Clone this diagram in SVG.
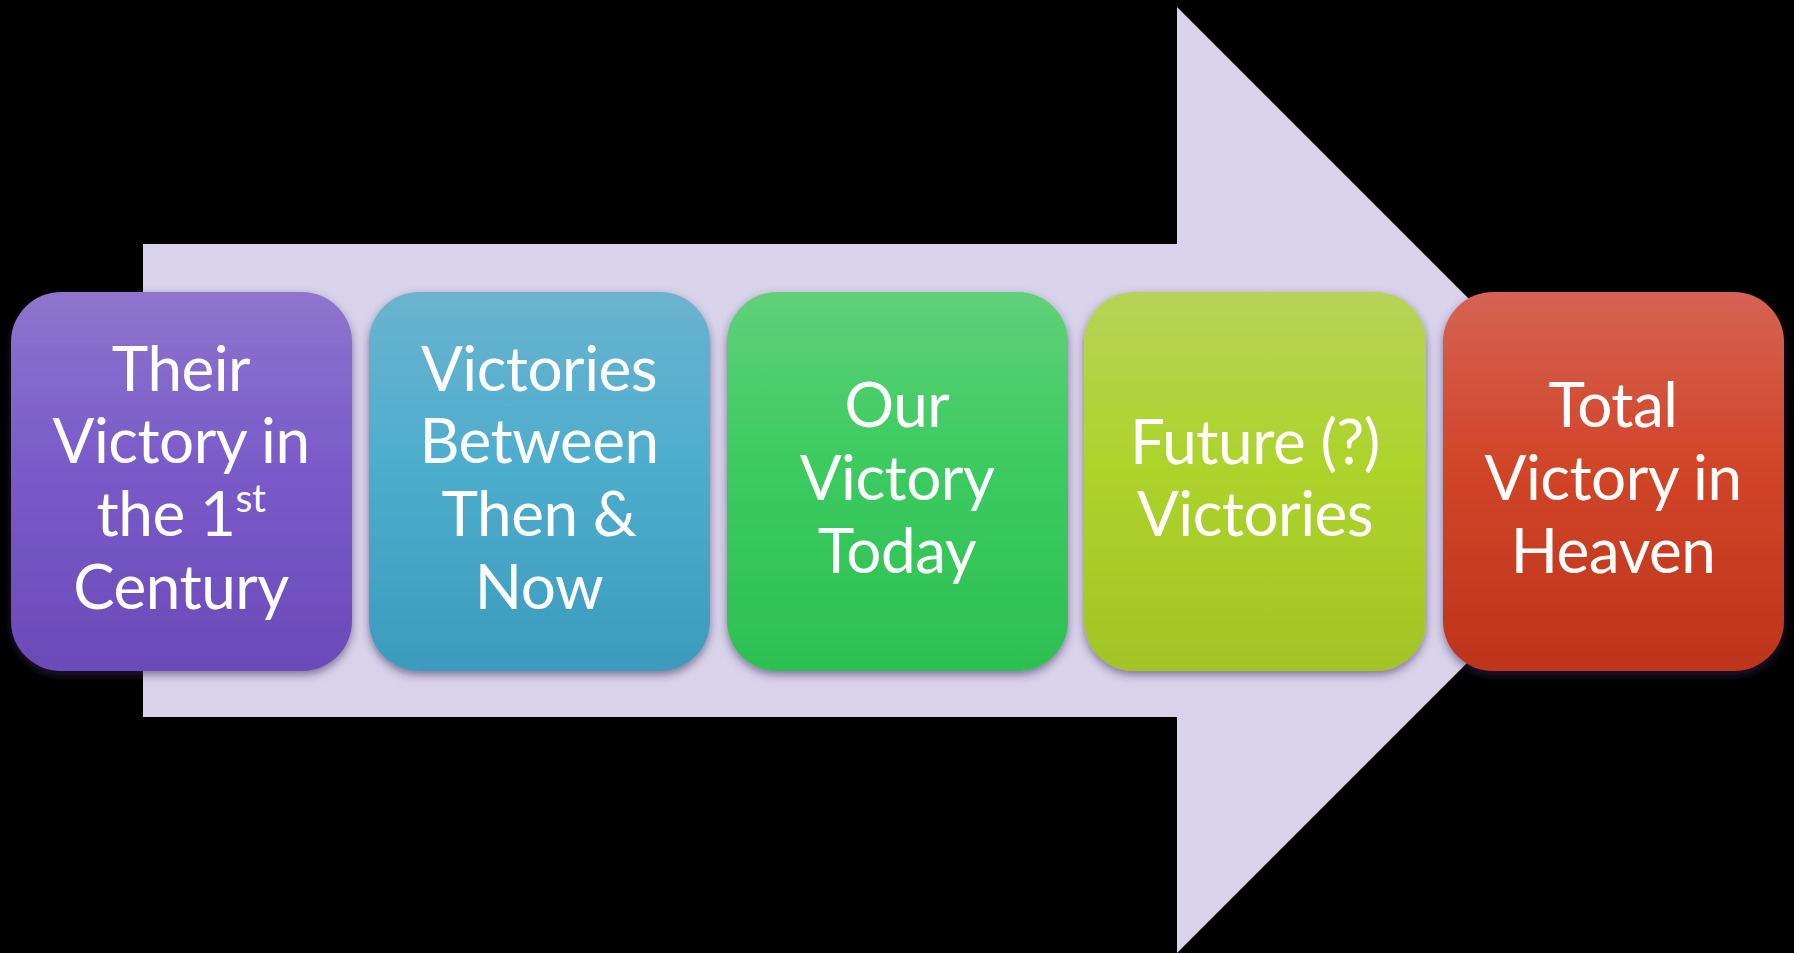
<svg xmlns="http://www.w3.org/2000/svg" width="1794" height="953" viewBox="0 0 1794 953">
  <defs>
    <linearGradient id="gPurple" x1="0" y1="0" x2="0" y2="1">
      <stop offset="0" stop-color="#8e75cd"/>
      <stop offset="0.45" stop-color="#7a5bc9"/>
      <stop offset="1" stop-color="#6a4bb8"/>
    </linearGradient>
    <linearGradient id="gBlue" x1="0" y1="0" x2="0" y2="1">
      <stop offset="0" stop-color="#6ab3cf"/>
      <stop offset="0.45" stop-color="#4eadcd"/>
      <stop offset="1" stop-color="#3c9bbd"/>
    </linearGradient>
    <linearGradient id="gGreen" x1="0" y1="0" x2="0" y2="1">
      <stop offset="0" stop-color="#60d07a"/>
      <stop offset="0.45" stop-color="#3ccb60"/>
      <stop offset="1" stop-color="#2dbf52"/>
    </linearGradient>
    <linearGradient id="gLime" x1="0" y1="0" x2="0" y2="1">
      <stop offset="0" stop-color="#b6d35a"/>
      <stop offset="0.45" stop-color="#aed32b"/>
      <stop offset="1" stop-color="#a2c425"/>
    </linearGradient>
    <linearGradient id="gRed" x1="0" y1="0" x2="0" y2="1">
      <stop offset="0" stop-color="#d56353"/>
      <stop offset="0.45" stop-color="#d14529"/>
      <stop offset="1" stop-color="#be341b"/>
    </linearGradient>
    <filter id="shadow" x="-10%" y="-10%" width="120%" height="125%">
      <feDropShadow dx="0" dy="4" stdDeviation="4" flood-color="#3a2c55" flood-opacity="0.55"/>
    </filter>
  </defs>
  <style>
    .box { filter: url(#shadow); }
    .label { font-family: Lato, "Open Sans", "Liberation Sans", sans-serif; font-size: 62px; letter-spacing: -0.5px; fill: #ffffff; text-anchor: middle; }
    .sup { font-size: 39px; }
  </style>

  <rect x="0" y="0" width="1794" height="953" fill="#000000"/>

  <!-- background block arrow -->
  <g id="timeline-arrow">
    <path d="M143,244 H1177 V7 L1650,480 L1177,953 V717 H143 Z" fill="#d8d3ea"/>
  </g>

  <g id="node-first-century">
    <rect class="box" x="11" y="292" width="341" height="379" rx="50" fill="url(#gPurple)"/>
    <text class="label" x="181" y="391">Their</text>
    <text class="label" x="181" y="463">Victory in</text>
    <text class="label" x="181" y="536">the 1<tspan class="sup" dy="-24">st</tspan></text>
    <text class="label" x="181" y="609">Century</text>
  </g>

  <g id="node-between">
    <rect class="box" x="369" y="292" width="341" height="379" rx="50" fill="url(#gBlue)"/>
    <text class="label" x="539" y="391">Victories</text>
    <text class="label" x="539" y="463">Between</text>
    <text class="label" x="539" y="536">Then &amp;</text>
    <text class="label" x="539" y="609">Now</text>
  </g>

  <g id="node-today">
    <rect class="box" x="727" y="292" width="341" height="379" rx="50" fill="url(#gGreen)"/>
    <text class="label" x="897" y="427">Our</text>
    <text class="label" x="897" y="500">Victory</text>
    <text class="label" x="897" y="573">Today</text>
  </g>

  <g id="node-future">
    <rect class="box" x="1084" y="292" width="342" height="379" rx="50" fill="url(#gLime)"/>
    <text class="label" x="1255" y="464">Future (?)</text>
    <text class="label" x="1255" y="536">Victories</text>
  </g>

  <g id="node-heaven">
    <rect class="box" x="1443" y="292" width="341" height="379" rx="50" fill="url(#gRed)"/>
    <text class="label" x="1613" y="427">Total</text>
    <text class="label" x="1613" y="500">Victory in</text>
    <text class="label" x="1613" y="573">Heaven</text>
  </g>

  <g id="connectors"/>
</svg>
